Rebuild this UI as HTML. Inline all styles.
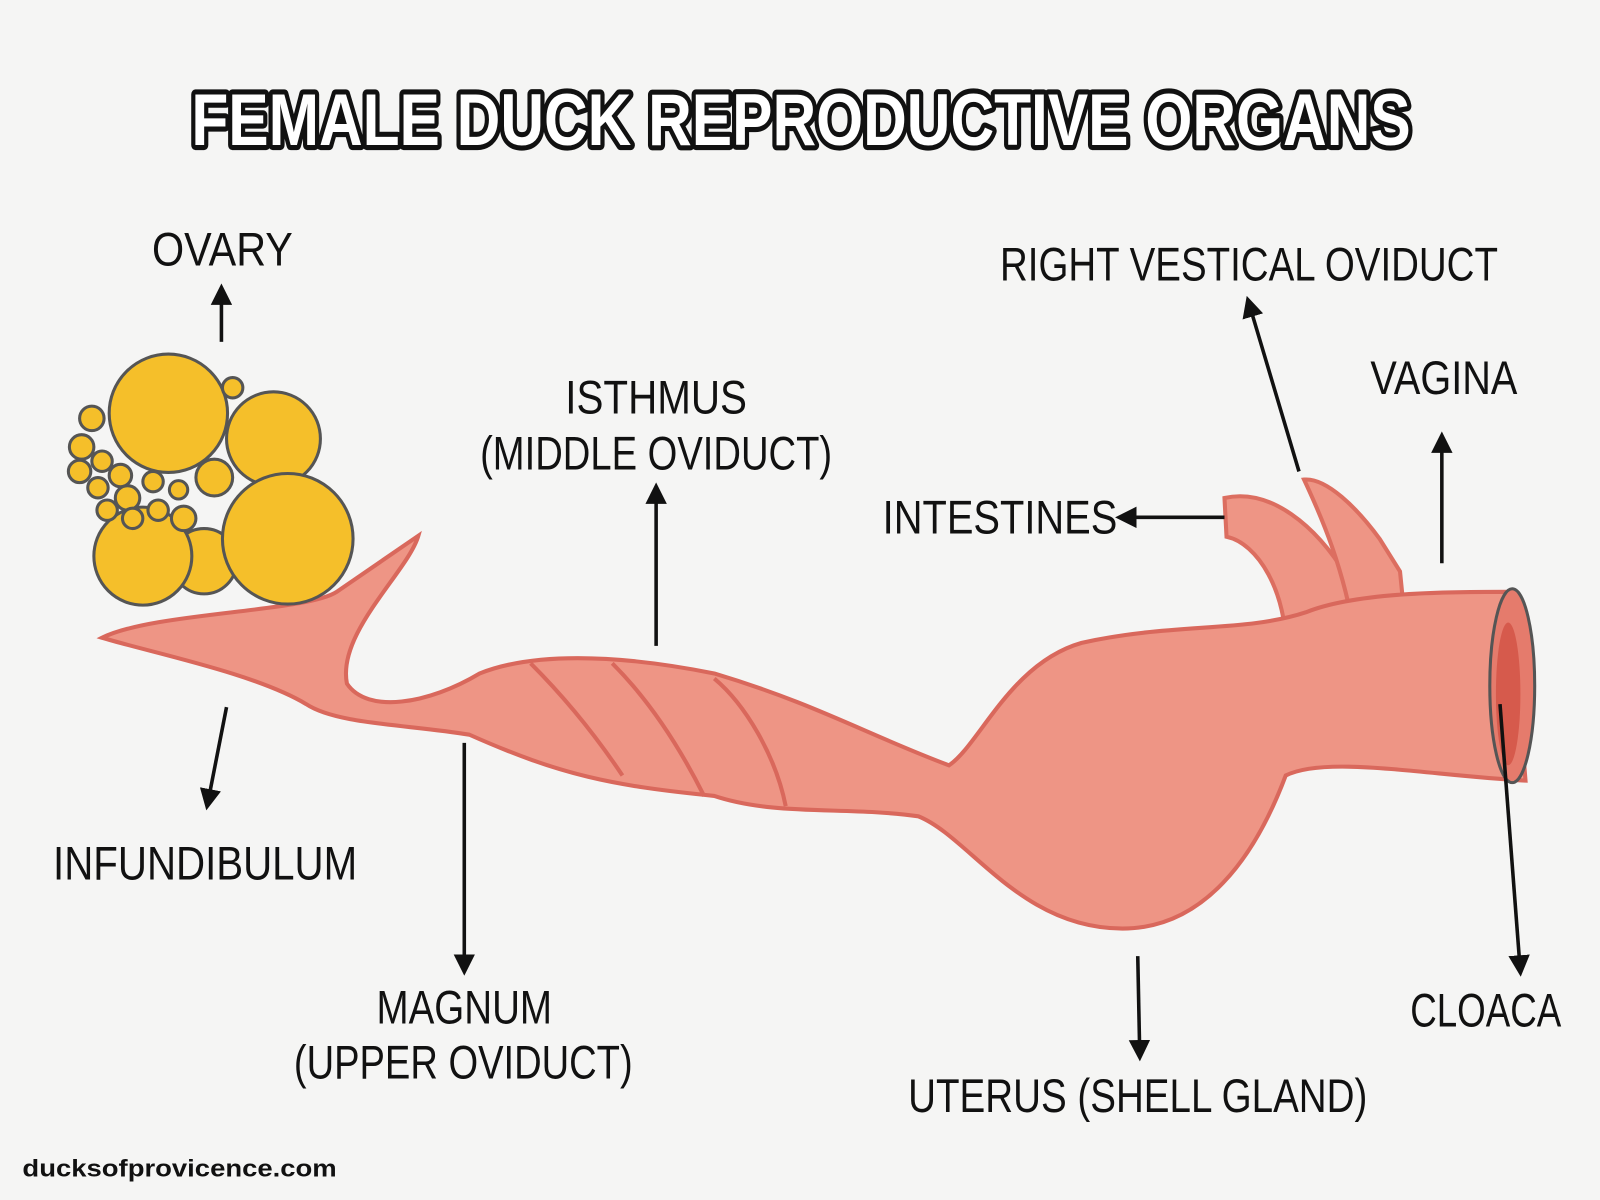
<!DOCTYPE html>
<html><head><meta charset="utf-8">
<style>
html,body{margin:0;padding:0;width:1600px;height:1200px;overflow:hidden;background:#f5f5f4;}
svg{display:block}
.lbl{font-family:"Liberation Sans Narrow","Liberation Sans",sans-serif;font-size:46px;fill:#111;text-anchor:middle;}
</style></head><body>
<svg width="1600" height="1200" viewBox="0 0 1568 1176" preserveAspectRatio="none" xmlns="http://www.w3.org/2000/svg">
<defs>
<marker id="ah" viewBox="0 0 10 10" refX="8" refY="5" markerWidth="6" markerHeight="6" orient="auto">
<path d="M0,0 L10,5 L0,10 Z" fill="#111"/></marker>
</defs>
<rect width="1568" height="1176" fill="#f5f5f4"/>

<text x="785" y="142" font-family="Liberation Sans" font-weight="bold" font-size="72" text-anchor="middle" textLength="1195" lengthAdjust="spacingAndGlyphs" fill="#fff" stroke="#111" stroke-width="10" paint-order="stroke" stroke-linejoin="round">FEMALE DUCK REPRODUCTIVE ORGANS</text>

<!-- branches -->
<path d="M1200,488 C1245,478 1290,515 1320,565 L1330,640 L1260,640 C1262,580 1232,532 1202,526 Z" fill="#ee9585" stroke="#dc6e60" stroke-width="4"/>
<path d="M1278,470 C1300,468 1330,498 1352,528 L1372,560 L1380,640 L1330,640 C1320,560 1292,500 1278,470 Z" fill="#ee9585" stroke="#dc6e60" stroke-width="4"/>
<!-- body -->
<path d="M100,625 C150,600 300,600 330,580 L410,525 C400,560 330,620 340,670 C360,700 420,690 470,660 C520,640 600,640 700,660 C800,690 850,720 930,750 C960,730 990,650 1060,630 C1150,610 1220,620 1280,600 C1330,580 1420,580 1480,580 L1495,765 C1400,760 1300,740 1260,760 C1230,840 1180,910 1100,910 C1000,910 950,820 900,800 C830,790 760,800 700,780 C600,770 550,760 460,720 C400,710 330,710 300,690 C250,660 150,640 100,625 Z" fill="#ee9585" stroke="#d9685c" stroke-width="4"/>
<path d="M520,650 C560,690 590,730 610,760 M600,650 C640,690 670,740 690,780 M700,665 C730,690 760,740 770,790" stroke="#d9685c" stroke-width="4" fill="none"/>
<ellipse cx="1482" cy="672" rx="22" ry="95" fill="#e57b6c" stroke="#555" stroke-width="3"/>
<ellipse cx="1478" cy="680" rx="12" ry="70" fill="#d65a4c"/>

<!-- ovary -->
<g fill="#f5bf2a" stroke="#555" stroke-width="3">
<circle cx="200" cy="550" r="32"/>
<circle cx="140" cy="545" r="48"/>
<circle cx="165" cy="405" r="58"/>
<circle cx="268" cy="430" r="46"/>
<circle cx="282" cy="528" r="64"/>
<circle cx="210" cy="468" r="18"/>
<circle cx="228" cy="380" r="10"/>
<circle cx="90" cy="410" r="12"/><circle cx="80" cy="438" r="12"/><circle cx="78" cy="462" r="11"/>
<circle cx="100" cy="452" r="10"/><circle cx="118" cy="466" r="11"/><circle cx="96" cy="478" r="10"/>
<circle cx="125" cy="488" r="12"/><circle cx="150" cy="472" r="10"/><circle cx="105" cy="500" r="10"/>
<circle cx="130" cy="508" r="10"/><circle cx="155" cy="500" r="10"/><circle cx="180" cy="508" r="12"/>
<circle cx="175" cy="480" r="9"/>
</g>

<!-- arrows -->
<g stroke="#111" stroke-width="3.5" marker-end="url(#ah)">
<line x1="217" y1="335" x2="217" y2="282"/>
<line x1="222" y1="693" x2="203" y2="790"/>
<line x1="455" y1="728" x2="455" y2="952"/>
<line x1="643" y1="633" x2="643" y2="477"/>
<line x1="1200" y1="507" x2="1097" y2="507"/>
<line x1="1273" y1="462" x2="1223" y2="294"/>
<line x1="1413" y1="552" x2="1413" y2="427"/>
<line x1="1115" y1="937" x2="1117" y2="1036"/>
<line x1="1470" y1="690" x2="1490" y2="953"/>
</g>

<text class="lbl" x="218" y="260" textLength="138" lengthAdjust="spacingAndGlyphs">OVARY</text>
<text class="lbl" x="201" y="862" textLength="298" lengthAdjust="spacingAndGlyphs">INFUNDIBULUM</text>
<text class="lbl" x="455" y="1003" textLength="172" lengthAdjust="spacingAndGlyphs">MAGNUM</text>
<text class="lbl" x="454" y="1057" textLength="332" lengthAdjust="spacingAndGlyphs">(UPPER OVIDUCT)</text>
<text class="lbl" x="643" y="405" textLength="178" lengthAdjust="spacingAndGlyphs">ISTHMUS</text>
<text class="lbl" x="643" y="460" textLength="345" lengthAdjust="spacingAndGlyphs">(MIDDLE OVIDUCT)</text>
<text class="lbl" x="980" y="523" textLength="230" lengthAdjust="spacingAndGlyphs">INTESTINES</text>
<text class="lbl" x="1224" y="275" textLength="488" lengthAdjust="spacingAndGlyphs">RIGHT VESTICAL OVIDUCT</text>
<text class="lbl" x="1415" y="386" textLength="144" lengthAdjust="spacingAndGlyphs">VAGINA</text>
<text class="lbl" x="1115" y="1090" textLength="450" lengthAdjust="spacingAndGlyphs">UTERUS (SHELL GLAND)</text>
<text class="lbl" x="1456" y="1006" textLength="148" lengthAdjust="spacingAndGlyphs">CLOACA</text>

<text x="22" y="1153" font-family="Liberation Sans" font-weight="bold" font-size="24" fill="#111" textLength="308" lengthAdjust="spacingAndGlyphs">ducksofprovicence.com</text>
</svg>
</body></html>
